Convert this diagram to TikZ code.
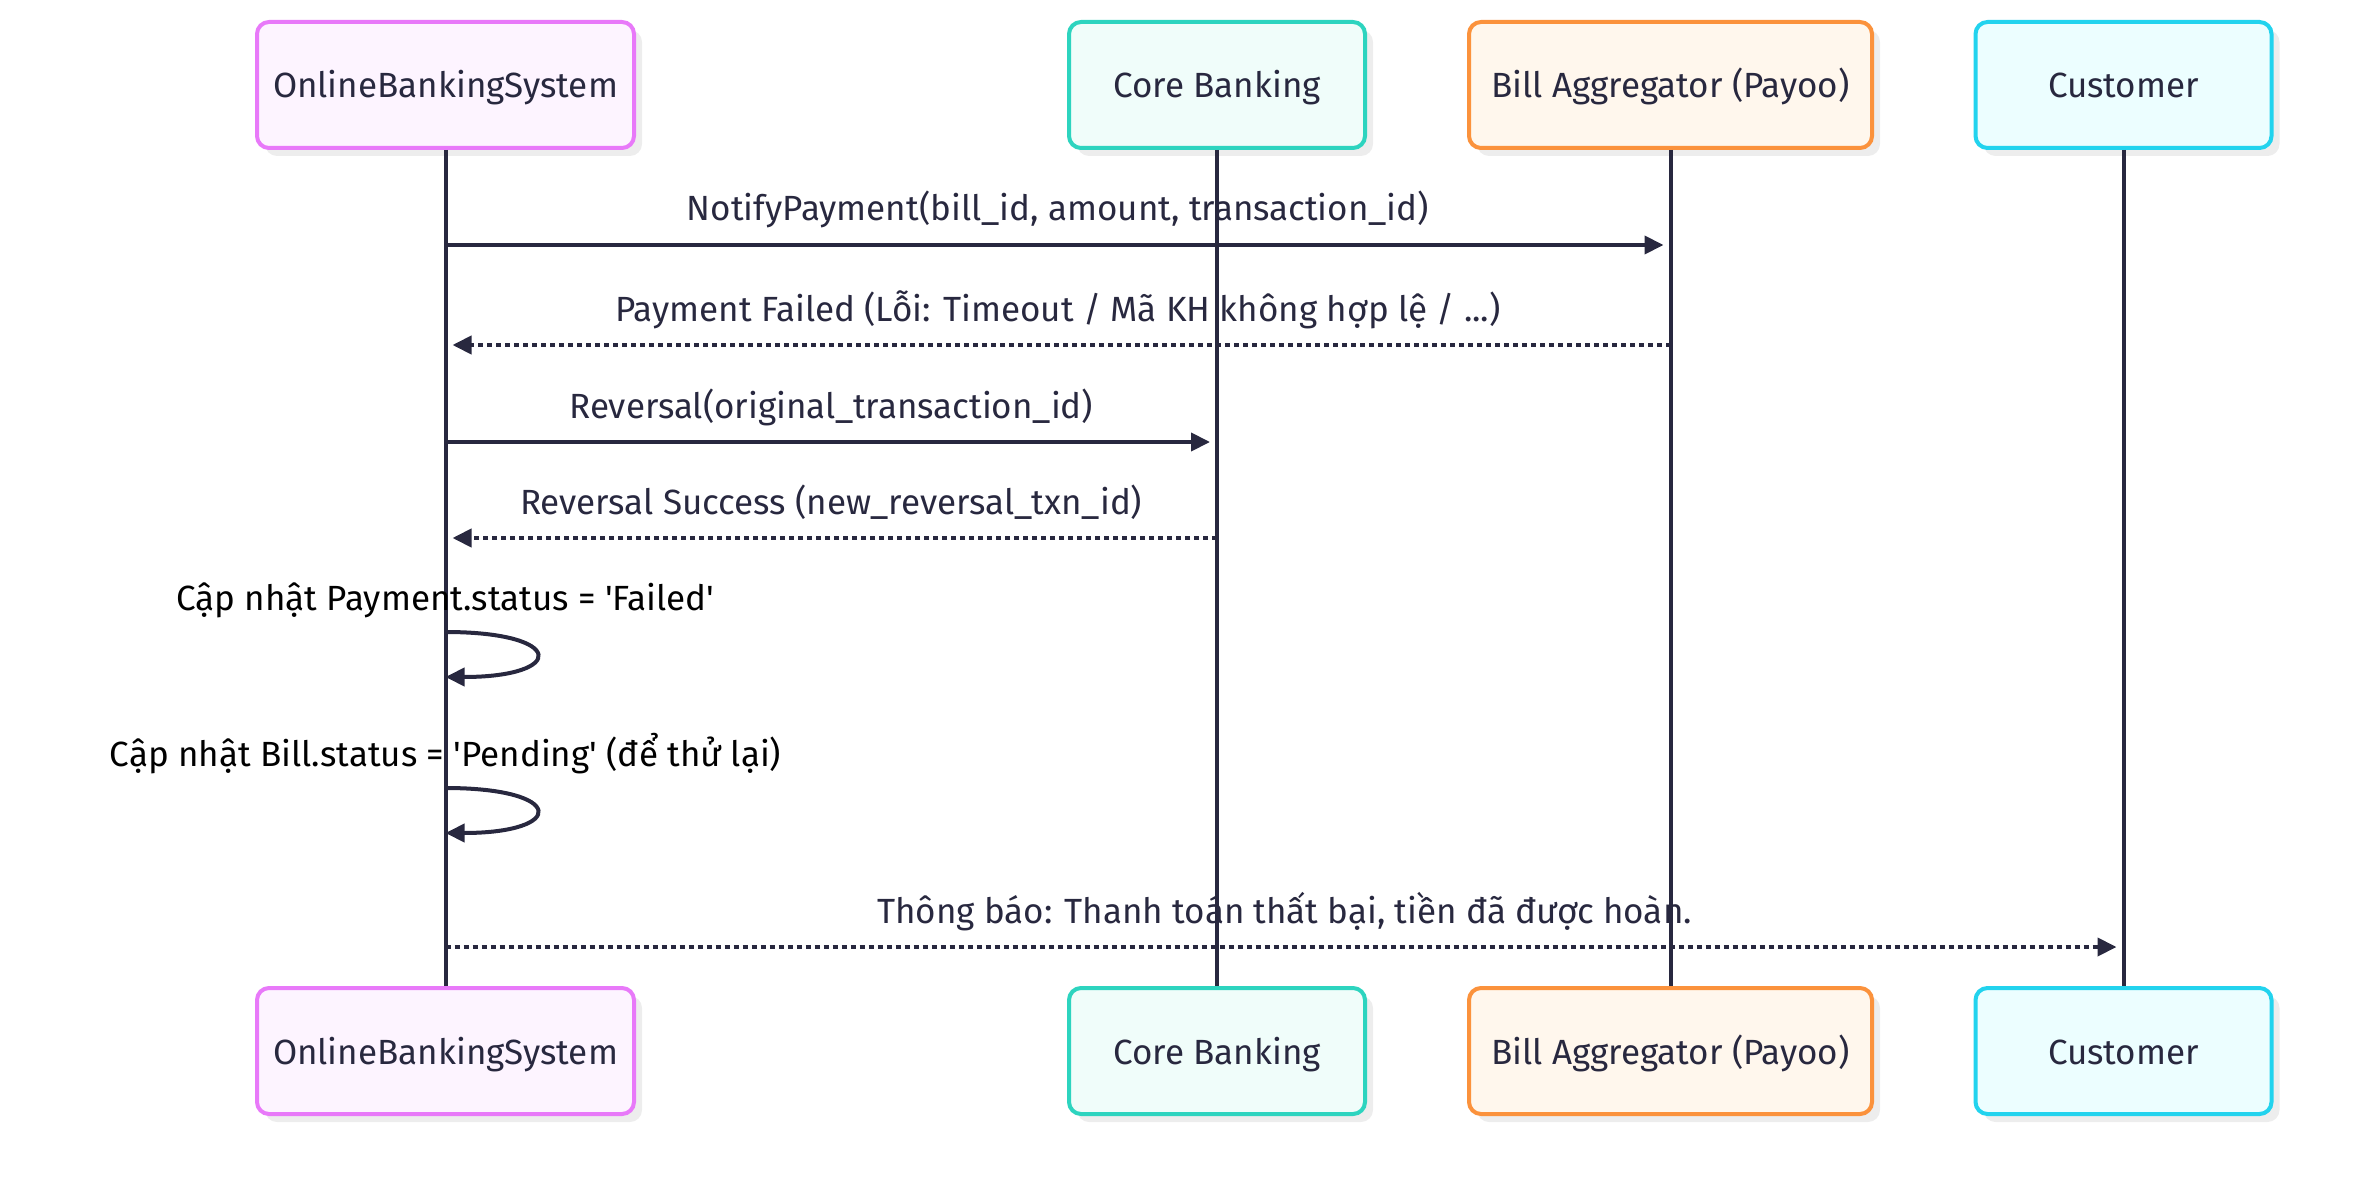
\documentclass[tikz,border=0pt]{standalone}
\usepackage{fontspec}
\setmainfont{Fira Sans}
\usetikzlibrary{arrows.meta,shadows,positioning}
\definecolor{ink}{HTML}{28283F}
\definecolor{obsline}{HTML}{E879F9}
\definecolor{obsfill}{HTML}{FDF4FF}
\definecolor{coreline}{HTML}{2DD4BF}
\definecolor{corefill}{HTML}{F0FDFA}
\definecolor{billline}{HTML}{FB923C}
\definecolor{billfill}{HTML}{FFF7ED}
\definecolor{custline}{HTML}{22D3EE}
\definecolor{custfill}{HTML}{ECFEFF}

\begin{document}
\begin{tikzpicture}[x=1pt,y=-1pt,
    font=\fontsize{35}{42}\selectfont,
    actor/.style={line width=4pt, rounded corners=12pt, minimum height=126pt,
        text height=30pt, text depth=4pt, text=ink,
        drop shadow={shadow xshift=8pt, shadow yshift=-8pt, fill=black!7, opacity=1}},
    life/.style={draw=ink, line width=4pt},
    call/.style={ink, line width=4pt, -{Triangle[length=19pt,width=18pt]}, shorten >=7pt},
    reply/.style={call, dash pattern=on 5pt off 4pt},
    self/.style={ink, line width=4pt, -{Triangle[length=19pt,width=18pt]}},
    lbl/.style={anchor=base, yshift=24pt}]
\useasboundingbox (0,0) rectangle (2376,1198);

% participants on top
\node[actor, draw=obsline, fill=obsfill, minimum width=377pt] (obsT) at (445.5,85) {OnlineBankingSystem};
\node[actor, draw=coreline, fill=corefill, minimum width=296pt] (coreT) at (1217,85) {Core Banking};
\node[actor, draw=billline, fill=billfill, minimum width=403pt] (billT) at (1670.5,85) {Bill Aggregator (Payoo)};
\node[actor, draw=custline, fill=custfill, minimum width=296pt] (custT) at (2123.5,85) {Customer};

% same participants at the bottom
\node[actor, draw=obsline, fill=obsfill, minimum width=377pt, below=836pt of obsT] (obsB) {OnlineBankingSystem};
\node[actor, draw=coreline, fill=corefill, minimum width=296pt, below=836pt of coreT] (coreB) {Core Banking};
\node[actor, draw=billline, fill=billfill, minimum width=403pt, below=836pt of billT] (billB) {Bill Aggregator (Payoo)};
\node[actor, draw=custline, fill=custfill, minimum width=296pt, below=836pt of custT] (custB) {Customer};

% lifelines
\foreach \p in {obs,core,bill,cust} {
    \draw[life] (\p T.south) -- (\p B.north);
}

% points on the lifelines, one row per message
\foreach \n/\y in {1/245,2/345,3/442,4/538,5/632,6/677,7/788,8/833,9/947} {
    \coordinate (obs\n) at (obsT.south |- 0,\y);
    \coordinate (core\n) at (coreT.south |- 0,\y);
    \coordinate (bill\n) at (billT.south |- 0,\y);
    \coordinate (cust\n) at (custT.south |- 0,\y);
}

\draw[call] (obs1) -- node[lbl] (m1) {NotifyPayment(bill\_id, amount, transaction\_id)} (bill1);
\draw[reply] (bill2) -- node[lbl] (m2) {Payment Failed (Lỗi: Timeout / Mã KH không hợp lệ / ...)} (obs2);
\draw[call] (obs3) -- node[lbl] (m3) {Reversal(original\_transaction\_id)} (core3);
\draw[reply] (core4) -- node[lbl] (m4) {Reversal Success (new\_reversal\_txn\_id)} (obs4);

% self calls
\node[lbl, yshift=-2pt] (m5) at (obs5) {Cập nhật Payment.status = \textquotesingle Failed\textquotesingle};
\draw[self] (obs5) .. controls +(121,0) and +(121,0) .. (obs6);
\node[lbl, yshift=-2pt] (m6) at (obs7) {Cập nhật Bill.status = \textquotesingle Pending\textquotesingle\ (để thử lại)};
\draw[self] (obs7) .. controls +(121,0) and +(121,0) .. (obs8);

\draw[reply] (obs9) -- node[lbl] (m7) {Thông báo: Thanh toán thất bại, tiền đã được hoàn.} (cust9);
\end{tikzpicture}
\end{document}
